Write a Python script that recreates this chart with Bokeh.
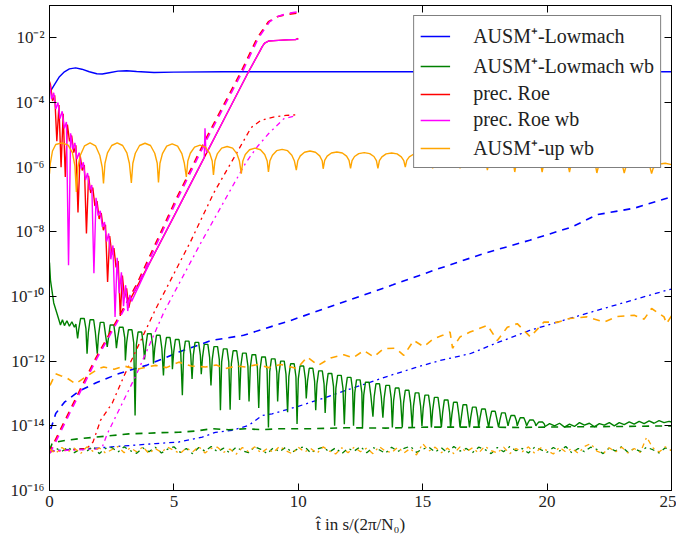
from bokeh.plotting import figure
from bokeh.models import (Range1d, LinearAxis, LogAxis, FixedTicker,
                          CustomJSTickFormatter, Legend, LegendItem)
from bokeh.embed import file_html
from bokeh.resources import INLINE

FONT = "Liberation Serif"

# ---------------- axes / labels ----------------
x_ticks = [0, 5, 10, 15, 20, 25]
y_ticks = [1e-16, 1e-14, 1e-12, 1e-10, 1e-8, 1e-6, 1e-4, 1e-2]
y_tick_labels = ["10⁻¹⁶", "10⁻¹⁴", "10⁻¹²", "10⁻¹⁰", "10⁻⁸", "10⁻⁶", "10⁻⁴", "10⁻²"]
x_label = "t̂ in s/(2π/N₀)"
series_labels = ["AUSM⁺-Lowmach", "AUSM⁺-Lowmach wb", "prec. Roe", "prec. Roe wb", "AUSM⁺-up wb"]

# ---------------- data (values given as log10 exponents) ----------------
# AUSM+-Lowmach (blue)
blue_solid_t = [0.0, 0.2, 0.4, 0.6, 0.8, 1.05, 1.3, 1.6, 1.9, 2.12, 2.4, 2.75, 3.1, 3.5, 4.2, 5.0, 7.0, 10.0, 15.0, 20.0, 25.0]
blue_solid_e = [-3.7, -3.45, -3.2, -3.05, -2.96, -2.93, -2.97, -3.05, -3.11, -3.12, -3.08, -3.03, -3.02, -3.04, -3.07, -3.06, -3.05, -3.05, -3.05, -3.05, -3.05]
blue_dash_t = [0.05, 0.25, 0.6, 1.2, 1.9, 2.8, 3.9, 5.2, 6.5, 7.8, 9.7, 12.0, 13.8, 15.6, 17.5, 19.3, 21.0, 22.0, 23.5, 25.0]
blue_dash_e = [-14.1, -13.62, -13.27, -12.92, -12.66, -12.38, -12.13, -11.72, -11.36, -11.2, -10.74, -10.12, -9.64, -9.15, -8.66, -8.26, -7.85, -7.47, -7.27, -6.92]
blue_dd_t = [0.0, 1.0, 2.0, 3.2, 4.26, 5.2, 6.14, 6.67, 7.34, 8.0, 8.55, 8.95, 9.9, 11.0, 12.0, 12.9, 13.7, 14.7, 15.7, 16.9, 18.0, 19.3, 20.6, 22.0, 23.4, 24.8, 25.0]
blue_dd_e = [-14.78, -14.72, -14.68, -14.61, -14.55, -14.5, -14.35, -14.2, -14.14, -13.99, -13.68, -13.63, -13.42, -13.15, -12.88, -12.65, -12.44, -12.2, -11.98, -11.77, -11.43, -11.05, -10.75, -10.43, -10.12, -9.81, -9.77]

# AUSM+-Lowmach wb (green)
green_solid_t = [
    0.00, 0.04, 0.17, 0.31, 0.44, 0.52, 0.60, 0.70, 0.80, 0.90, 1.00, 1.06,
    1.13, 1.18, 1.25, 1.395, 1.465,
    1.51, 1.56, 1.63, 1.775, 1.845,
    1.92, 1.97, 2.04, 2.185, 2.255,
    2.32, 2.37, 2.44, 2.585, 2.655,
    2.69, 2.74, 2.81, 2.955, 3.025,
    3.05, 3.10, 3.17, 3.315, 3.385,
    3.44, 3.49, 3.56, 3.705, 3.775,
    3.82, 3.87, 3.94, 4.085, 4.155,
    4.18, 4.23, 4.30, 4.445, 4.515,
    4.58, 4.63, 4.70, 4.845, 4.915,
    4.94, 4.99, 5.06, 5.205, 5.275,
    5.34, 5.39, 5.46, 5.605, 5.675,
    5.73, 5.78, 5.85, 5.995, 6.065,
    6.10, 6.15, 6.22, 6.365, 6.435,
    6.49, 6.54, 6.61, 6.755, 6.825,
    6.87, 6.92, 6.99, 7.135, 7.205,
    7.26, 7.31, 7.38, 7.525, 7.595,
    7.64, 7.69, 7.76, 7.905, 7.975,
    8.02, 8.07, 8.14, 8.285, 8.355,
    8.41, 8.46, 8.53, 8.675, 8.745,
    8.80, 8.85, 8.92, 9.065, 9.135,
    9.17, 9.22, 9.29, 9.435, 9.505,
    9.57, 9.62, 9.69, 9.835, 9.905,
    9.95, 10.00, 10.07, 10.215, 10.285,
    10.32, 10.37, 10.44, 10.585, 10.655,
    10.70, 10.75, 10.82, 10.965, 11.035,
    11.08, 11.13, 11.20, 11.345, 11.415,
    11.46, 11.51, 11.58, 11.725, 11.795,
    11.85, 11.90, 11.97, 12.115, 12.185,
    12.22, 12.27, 12.34, 12.485, 12.555,
    12.58, 12.63, 12.70, 12.845, 12.915,
    13.00, 13.05, 13.12, 13.265, 13.335,
    13.40, 13.45, 13.52, 13.665, 13.735,
    13.78, 13.83, 13.90, 14.045, 14.115,
    14.18, 14.23, 14.30, 14.445, 14.515,
    14.58, 14.63, 14.70, 14.845, 14.915,
    14.97, 15.02, 15.09, 15.235, 15.305,
    15.35, 15.40, 15.47, 15.615, 15.685,
    15.75, 15.80, 15.87, 16.015, 16.085,
    16.12, 16.17, 16.24, 16.385, 16.455,
    16.50, 16.55, 16.62, 16.765, 16.835,
    16.88, 16.93, 17.00, 17.145, 17.215,
    17.25, 17.30, 17.37, 17.515, 17.585,
    17.65, 17.70, 17.77, 17.915, 17.985,
    18.05, 18.10, 18.17, 18.315, 18.385,
    18.43, 18.48, 18.55, 18.695, 18.765,
    18.80, 18.85, 18.92, 19.065, 19.135,
    19.18, 19.23, 19.30, 19.445, 19.515,
    19.55, 19.60, 19.67, 19.815, 19.885,
    19.92, 20.1, 20.3, 20.5, 20.7, 20.9, 21.1, 21.3, 21.5, 21.7, 21.9, 22.1, 22.3, 22.5,
    22.7, 22.9, 23.1, 23.3, 23.5, 23.7, 23.9, 24.1, 24.3, 24.5, 24.7, 24.9, 25.0]
green_solid_e = [
    -8.95, -9.50, -10.20, -10.55, -10.88, -10.72, -10.90, -10.75, -10.92, -10.78, -10.95, -10.85,
    -11.30, -10.99, -10.68, -10.68, -10.99,
    -11.77, -11.12, -10.72, -10.72, -11.12,
    -11.77, -11.20, -10.80, -10.80, -11.20,
    -11.56, -11.28, -10.88, -10.88, -11.28,
    -11.60, -11.28, -10.95, -10.95, -11.28,
    -11.98, -11.43, -11.03, -11.03, -11.43,
    -13.68, -11.50, -11.10, -11.10, -11.50,
    -11.95, -11.55, -11.15, -11.15, -11.55,
    -12.08, -11.60, -11.20, -11.20, -11.60,
    -12.44, -11.67, -11.27, -11.27, -11.67,
    -12.25, -11.73, -11.33, -11.33, -11.73,
    -13.05, -11.78, -11.38, -11.38, -11.78,
    -12.55, -11.82, -11.42, -11.42, -11.82,
    -12.40, -11.88, -11.48, -11.48, -11.88,
    -12.75, -11.95, -11.55, -11.55, -11.95,
    -13.52, -12.02, -11.62, -11.62, -12.02,
    -13.50, -12.08, -11.68, -11.68, -12.08,
    -13.20, -12.15, -11.75, -11.75, -12.15,
    -13.25, -12.20, -11.80, -11.80, -12.20,
    -13.45, -12.27, -11.87, -11.87, -12.27,
    -14.05, -12.33, -11.93, -11.93, -12.33,
    -13.25, -12.40, -12.00, -12.00, -12.40,
    -13.58, -12.48, -12.08, -12.08, -12.48,
    -13.94, -12.55, -12.15, -12.15, -12.55,
    -13.15, -12.62, -12.22, -12.22, -12.62,
    -13.52, -12.70, -12.30, -12.30, -12.70,
    -13.60, -12.78, -12.38, -12.38, -12.78,
    -14.00, -12.84, -12.44, -12.44, -12.84,
    -13.95, -12.90, -12.50, -12.50, -12.90,
    -14.00, -12.98, -12.58, -12.58, -12.98,
    -14.05, -13.05, -12.65, -12.65, -13.05,
    -13.72, -13.10, -12.70, -12.70, -13.10,
    -13.75, -13.15, -12.75, -12.75, -13.15,
    -14.05, -13.23, -12.83, -12.83, -13.23,
    -14.05, -13.30, -12.90, -12.90, -13.30,
    -14.05, -13.38, -12.98, -12.98, -13.38,
    -14.00, -13.45, -13.05, -13.05, -13.45,
    -14.05, -13.52, -13.12, -13.12, -13.52,
    -14.05, -13.60, -13.20, -13.20, -13.60,
    -14.05, -13.67, -13.27, -13.27, -13.67,
    -14.05, -13.75, -13.35, -13.35, -13.75,
    -14.05, -13.74, -13.42, -13.42, -13.74,
    -14.05, -13.77, -13.48, -13.48, -13.77,
    -14.05, -13.80, -13.55, -13.55, -13.80,
    -14.05, -13.83, -13.60, -13.60, -13.83,
    -14.00, -13.84, -13.68, -13.68, -13.84,
    -14.00, -13.88, -13.75, -13.75, -13.88,
    -14.00, -13.91, -13.82, -13.82, -13.91,
    -14.00, -13.94, -13.88, -13.88, -13.94,
    -14.02, -13.93, -14.00, -13.92, -14.04, -13.95, -14.02, -13.90, -13.98, -13.92, -14.03, -13.93, -13.98, -13.90,
    -14.00, -13.90, -13.96, -13.88, -13.95, -13.86, -13.93, -13.85, -13.92, -13.84, -13.90, -13.86, -13.88]
green_dash_t = [0.0, 0.1, 0.3, 0.64, 1.18, 1.85, 2.52, 3.19, 3.9, 4.53, 5.2, 5.87, 6.54, 7.2, 7.88, 8.55, 9.22, 10.5, 11.9, 13.5, 15.3, 17.3, 19.0, 21.0, 23.0, 25.0]
green_dash_e = [-14.75, -14.56, -14.5, -14.45, -14.4, -14.35, -14.3, -14.25, -14.23, -14.21, -14.2, -14.16, -14.09, -14.12, -14.09, -14.12, -14.09, -14.09, -14.06, -14.07, -14.04, -14.04, -14.05, -14.03, -14.02, -14.0]

noise_t = [i * 0.25 for i in range(101)]
green_noise_e = [
    -14.84, -14.69, -14.79, -14.66, -14.83, -14.71, -14.78, -14.64, -14.86, -14.70,
    -14.67, -14.81, -14.65, -14.77, -14.85, -14.68, -14.80, -14.66, -14.84, -14.72,
    -14.65, -14.82, -14.70, -14.86, -14.67, -14.78, -14.64, -14.80, -14.69, -14.84,
    -14.66, -14.77, -14.83, -14.65, -14.73, -14.86, -14.68, -14.80, -14.66, -14.82,
    -14.70, -14.64, -14.84, -14.72, -14.66, -14.81, -14.68, -14.86, -14.70, -14.78,
    -14.64, -14.83, -14.67, -14.74, -14.85, -14.66, -14.79, -14.70, -14.63, -14.82,
    -14.72, -14.66, -14.81, -14.68, -14.84, -14.64, -14.78, -14.70, -14.83, -14.66,
    -14.73, -14.86, -14.67, -14.80, -14.64, -14.77, -14.70, -14.84, -14.66, -14.74,
    -14.82, -14.67, -14.78, -14.64, -14.84, -14.70, -14.80, -14.66, -14.73, -14.86,
    -14.68, -14.78, -14.64, -14.82, -14.70, -14.80, -14.66, -14.74, -14.84, -14.68,
    -14.77]

# prec. Roe (red)
red_solid_t = [0.000, 0.040, 0.125, 0.210, 0.295, 0.380, 0.465, 0.550, 0.635, 0.720, 0.805, 0.890, 0.975,
               1.060, 1.145, 1.230, 1.315, 1.400, 1.485, 1.570, 1.655, 1.740, 1.825, 1.910, 1.995, 2.080,
               2.165, 2.250, 2.335, 2.420, 2.505, 2.590, 2.675, 2.760, 2.845, 2.930, 3.015, 3.100, 3.185,
               3.270, 4.0, 5.0, 6.0, 7.0, 8.0, 8.45, 8.55, 8.65, 8.8, 9.2, 9.6, 9.9, 10.0]
red_solid_e = [-3.35, -3.45, -3.95, -3.78, -5.20, -4.08, -6.00, -4.35, -6.30, -4.68, -5.20, -5.02, -5.55,
               -5.32, -7.40, -5.62, -6.10, -5.93, -8.05, -6.27, -6.80, -6.63, -7.20, -7.05, -7.60, -7.42,
               -7.95, -7.78, -9.55, -8.13, -8.70, -8.50, -9.10, -8.90, -10.60, -9.35, -10.05, -9.75, -10.35,
               -10.05, -9.0, -7.52, -6.03, -4.54, -3.05, -2.42, -2.27, -2.16, -2.10, -2.08, -2.06, -2.05, -2.02]
red_dash_t = [0.0, 0.1, 0.8, 1.85, 2.52, 3.52, 5.05, 6.3, 7.7, 8.35, 8.8, 9.15, 9.5, 9.95]
red_dash_e = [-14.85, -14.65, -13.55, -11.92, -11.0, -9.6, -7.05, -5.1, -3.05, -2.0, -1.5, -1.35, -1.28, -1.24]
red_dd_t = [0.0, 0.8, 1.5, 1.75, 2.05, 2.52, 3.0, 4.26, 5.67, 6.6, 7.68, 8.1, 8.5, 9.0, 9.5, 9.95]
red_dd_e = [-14.8, -14.75, -14.7, -14.5, -13.83, -13.3, -12.45, -10.4, -8.3, -6.8, -5.35, -4.78, -4.55, -4.45, -4.4, -4.38]

# prec. Roe wb (magenta)
mag_solid_t = [0.000, 0.085, 0.170, 0.255, 0.340, 0.425, 0.510, 0.595, 0.680, 0.765, 0.850, 0.935, 1.020,
               1.105, 1.190, 1.275, 1.360, 1.445, 1.530, 1.615, 1.700, 1.785, 1.870, 1.955, 2.040, 2.125,
               2.210, 2.295, 2.380, 2.465, 2.550, 2.635, 2.720, 2.805, 2.890, 2.975, 3.060, 3.145, 3.230,
               3.30, 4.0, 5.0, 6.0, 6.22, 6.25, 6.28, 6.32, 7.0, 8.0, 8.45, 8.55, 8.65, 8.8, 9.2, 9.6, 9.9, 10.0]
mag_solid_e = [-3.40, -3.90, -3.70, -4.20, -4.00, -4.50, -4.27, -4.80, -4.60, -9.03, -4.95, -5.45, -5.25,
               -5.75, -5.55, -6.05, -5.85, -6.40, -6.18, -6.70, -6.55, -9.28, -6.95, -7.50, -7.35, -7.85,
               -7.70, -8.30, -8.05, -8.85, -8.42, -10.63, -8.80, -9.90, -9.25, -10.30, -9.65, -10.45, -9.95,
               -10.15, -9.0, -7.52, -6.03, -5.70, -4.80, -5.40, -5.55, -4.54, -3.05, -2.42, -2.27, -2.16,
               -2.10, -2.08, -2.06, -2.05, -2.03]
mag_dash_t = [0.0, 0.15, 0.85, 1.9, 2.57, 3.57, 5.1, 6.35, 7.75, 8.4, 8.85, 9.2, 9.55, 9.95]
mag_dash_e = [-14.85, -14.65, -13.55, -11.92, -11.0, -9.6, -7.05, -5.1, -3.05, -2.0, -1.5, -1.33, -1.25, -1.2]
mag_dd_t = [0.0, 1.0, 1.9, 2.12, 2.32, 2.85, 3.5, 4.6, 6.07, 7.27, 7.9, 8.35, 8.81, 9.42, 9.95]
mag_dd_e = [-14.78, -14.75, -14.72, -14.66, -14.25, -13.42, -12.4, -10.48, -8.36, -6.71, -5.85, -5.37, -4.96, -4.5, -4.4]

# AUSM+-up wb (orange)
orange_solid_t = [
    0.00, 0.03, 0.12, 0.25, 0.50, 0.75, 0.92, 1.02,
    1.08, 1.14, 1.24, 1.41, 1.63, 1.85, 2.02, 2.12,
    2.17, 2.23, 2.33, 2.50, 2.72, 2.94, 3.11, 3.21,
    3.29, 3.35, 3.45, 3.62, 3.84, 4.06, 4.23, 4.33,
    4.38, 4.44, 4.54, 4.71, 4.93, 5.15, 5.32, 5.42,
    5.50, 5.56, 5.66, 5.83, 6.05, 6.27, 6.44, 6.54,
    6.59, 6.65, 6.75, 6.92, 7.14, 7.36, 7.53, 7.63,
    7.71, 7.77, 7.87, 8.04, 8.26, 8.48, 8.65, 8.75,
    8.80, 8.86, 8.96, 9.13, 9.35, 9.57, 9.74, 9.84,
    9.92, 9.98, 10.08, 10.25, 10.47, 10.69, 10.86, 10.96,
    11.00, 11.06, 11.16, 11.33, 11.55, 11.77, 11.94, 12.04,
    12.10, 12.16, 12.26, 12.43, 12.65, 12.87, 13.04, 13.14,
    13.20, 13.26, 13.36, 13.53, 13.75, 13.97, 14.14, 14.24,
    14.30, 14.36, 14.46, 14.63, 14.85, 15.07, 15.24, 15.34,
    15.40, 15.46, 15.56, 15.73, 15.95, 16.17, 16.34, 16.44,
    16.50, 16.56, 16.66, 16.83, 17.05, 17.27, 17.44, 17.54,
    17.60, 17.66, 17.76, 17.93, 18.15, 18.37, 18.54, 18.64,
    18.70, 18.76, 18.86, 19.03, 19.25, 19.47, 19.64, 19.74,
    19.80, 19.86, 19.96, 20.13, 20.35, 20.57, 20.74, 20.84,
    20.90, 20.96, 21.06, 21.23, 21.45, 21.67, 21.84, 21.94,
    22.00, 22.06, 22.16, 22.33, 22.55, 22.77, 22.94, 23.04,
    23.10, 23.16, 23.26, 23.43, 23.65, 23.87, 24.04, 24.14,
    24.20, 24.26, 24.36, 24.53, 24.75, 25.00]
orange_solid_e = [
    -6.20, -5.90, -5.50, -5.30, -5.25, -5.32, -5.55, -5.95,
    -6.77, -6.01, -5.63, -5.34, -5.25, -5.34, -5.63, -6.01,
    -6.50, -5.88, -5.56, -5.33, -5.25, -5.33, -5.56, -5.88,
    -6.49, -5.88, -5.57, -5.33, -5.26, -5.33, -5.57, -5.88,
    -6.47, -5.88, -5.58, -5.35, -5.28, -5.35, -5.58, -5.88,
    -6.30, -5.81, -5.57, -5.38, -5.32, -5.38, -5.57, -5.81,
    -6.24, -5.80, -5.58, -5.41, -5.36, -5.41, -5.58, -5.80,
    -6.20, -5.81, -5.61, -5.46, -5.41, -5.46, -5.61, -5.81,
    -6.15, -5.80, -5.63, -5.49, -5.45, -5.49, -5.63, -5.80,
    -6.09, -5.80, -5.65, -5.54, -5.50, -5.54, -5.65, -5.80,
    -6.05, -5.79, -5.66, -5.56, -5.53, -5.56, -5.66, -5.79,
    -6.04, -5.80, -5.67, -5.58, -5.55, -5.58, -5.67, -5.80,
    -6.04, -5.80, -5.68, -5.59, -5.56, -5.59, -5.68, -5.80,
    -6.00, -5.79, -5.68, -5.60, -5.57, -5.60, -5.68, -5.79,
    -6.04, -5.81, -5.69, -5.61, -5.58, -5.61, -5.69, -5.81,
    -6.04, -5.82, -5.71, -5.63, -5.60, -5.63, -5.71, -5.82,
    -6.09, -5.85, -5.74, -5.65, -5.62, -5.65, -5.74, -5.85,
    -6.15, -5.90, -5.77, -5.67, -5.64, -5.67, -5.77, -5.90,
    -6.15, -5.91, -5.78, -5.69, -5.66, -5.69, -5.78, -5.91,
    -6.15, -5.93, -5.81, -5.73, -5.70, -5.73, -5.81, -5.93,
    -6.18, -5.99, -5.90, -5.83, -5.80, -5.83, -5.90, -5.99,
    -6.18, -6.01, -5.92, -5.86, -5.84, -5.86, -5.92, -6.01,
    -6.20, -6.04, -5.96, -5.90, -5.88, -5.92]
orange_dash_t = [0.02, 0.24, 0.45, 0.64, 1.04, 1.45, 1.98, 2.18, 2.6, 3.0, 3.5, 4.26, 4.7, 5.2, 5.7, 6.27,
                 6.7, 7.07, 7.5, 7.88, 8.4, 8.8, 9.3, 9.95, 10.36, 10.8, 11.3, 11.83, 12.2, 12.63, 13.03,
                 13.43, 13.9, 14.24, 14.64, 15.04, 15.45, 15.8, 16.1, 16.2, 16.5, 16.9, 17.6, 18.0, 18.4,
                 18.8, 19.33, 19.87, 20.4, 20.9, 21.6, 22.3, 22.8, 23.5, 23.9, 24.2, 24.7, 24.8, 25.0]
orange_dash_e = [-12.75, -12.39, -12.45, -12.49, -12.7, -12.49, -12.23, -12.18, -12.25, -12.15, -12.25,
                 -12.13, -12.2, -12.03, -12.15, -12.18, -12.12, -12.23, -12.15, -12.18, -12.1, -12.2, -12.1,
                 -12.23, -11.87, -12.13, -11.9, -11.8, -11.9, -11.67, -11.87, -11.61, -11.6, -11.82, -11.36,
                 -11.55, -11.3, -11.2, -11.1, -11.6, -11.25, -11.1, -10.89, -11.36, -10.95, -10.84, -11.25,
                 -10.79, -10.8, -10.68, -10.63, -10.79, -10.62, -10.58, -10.7, -10.37, -10.63, -10.84, -10.6]
orange_noise_e = [
    -14.72, -14.85, -14.67, -14.80, -14.69, -14.86, -14.65, -14.79, -14.68, -14.84,
    -14.74, -14.64, -14.83, -14.68, -14.80, -14.65, -14.86, -14.70, -14.82, -14.66,
    -14.76, -14.86, -14.68, -14.81, -14.64, -14.84, -14.70, -14.66, -14.82, -14.72,
    -14.88, -14.67, -14.80, -14.65, -14.84, -14.70, -14.82, -14.63, -14.77, -14.86,
    -14.66, -14.81, -14.70, -14.85, -14.65, -14.78, -14.87, -14.68, -14.83, -14.66,
    -14.80, -14.69, -14.86, -14.64, -14.78, -14.83, -14.66, -14.84, -14.70, -14.90,
    -14.55, -14.78, -14.66, -14.83, -14.69, -14.86, -14.65, -14.80, -14.68, -14.84,
    -14.63, -14.77, -14.84, -14.66, -14.86, -14.70, -14.80, -14.65, -14.85, -14.68,
    -14.76, -14.87, -14.66, -14.81, -14.70, -14.85, -14.64, -14.55, -14.78, -14.86,
    -14.68, -14.81, -14.66, -14.84, -14.70, -14.82, -14.35, -14.68, -14.81, -14.65,
    -14.77]

# ---------------- styling ----------------
BLUE, GREEN, RED, MAGENTA, ORANGE = "#0000ff", "#008000", "#ff0000", "#ff00ff", "#ffa500"
W_SOLID, W_DASH, W_DD = 1.4, 1.6, 1.3
DASH, DASHDOT = "7 6", "5 4 2 4"


def vals(exps):
    return [10.0 ** e for e in exps]


p = figure(width=676, height=536, y_axis_type="log",
           x_range=Range1d(0, 25), y_range=Range1d(1e-16, 1e-1),
           output_backend="svg", toolbar_location=None,
           min_border_left=49, min_border_right=5, min_border_top=5, min_border_bottom=46)
p.grid.visible = False
p.outline_line_color = "black"
p.outline_line_width = 1
p.background_fill_color = "white"
p.border_fill_color = "white"

r_blue = p.line(blue_solid_t, vals(blue_solid_e), line_color=BLUE, line_width=W_SOLID)
p.line(blue_dash_t, vals(blue_dash_e), line_color=BLUE, line_width=W_DASH, line_dash=DASH)
p.line(blue_dd_t, vals(blue_dd_e), line_color=BLUE, line_width=W_DD, line_dash=DASHDOT)

r_green = p.line(green_solid_t, vals(green_solid_e), line_color=GREEN, line_width=W_SOLID)
p.line(green_dash_t, vals(green_dash_e), line_color=GREEN, line_width=W_DASH, line_dash=DASH)
p.line(noise_t, vals(green_noise_e), line_color=GREEN, line_width=W_DD, line_dash=DASHDOT)

r_red = p.line(red_solid_t, vals(red_solid_e), line_color=RED, line_width=W_SOLID)
p.line(red_dash_t, vals(red_dash_e), line_color=RED, line_width=W_DASH, line_dash=DASH)
p.line(red_dd_t, vals(red_dd_e), line_color=RED, line_width=W_DD, line_dash=DASHDOT)

r_mag = p.line(mag_solid_t, vals(mag_solid_e), line_color=MAGENTA, line_width=W_SOLID)
p.line(mag_dash_t, vals(mag_dash_e), line_color=MAGENTA, line_width=W_DASH, line_dash=DASH)
p.line(mag_dd_t, vals(mag_dd_e), line_color=MAGENTA, line_width=W_DD, line_dash=DASHDOT)

r_orange = p.line(orange_solid_t, vals(orange_solid_e), line_color=ORANGE, line_width=W_SOLID)
p.line(orange_dash_t, vals(orange_dash_e), line_color=ORANGE, line_width=W_DASH, line_dash=DASH)
p.line(noise_t, vals(orange_noise_e), line_color=ORANGE, line_width=W_DD, line_dash=DASHDOT)

# axes
p.xaxis.ticker = FixedTicker(ticks=x_ticks)
p.yaxis.ticker = FixedTicker(ticks=y_ticks)
p.yaxis.formatter = CustomJSTickFormatter(args=dict(vals=y_ticks, labs=y_tick_labels), code="""
let best = 0, bd = Infinity;
for (let i = 0; i < vals.length; i++) {
  const d = Math.abs(Math.log10(vals[i]) - Math.log10(tick));
  if (d < bd) { bd = d; best = i; }
}
return labs[best];
""")
p.xaxis.axis_label = x_label

blank = CustomJSTickFormatter(code="return '';")
top_ax = LinearAxis(ticker=FixedTicker(ticks=x_ticks), formatter=blank)
right_ax = LogAxis(ticker=FixedTicker(ticks=y_ticks), formatter=blank)
p.add_layout(top_ax, "above")
p.add_layout(right_ax, "right")

for ax in p.axis:
    ax.axis_line_color = "black"
    ax.major_tick_line_color = "black"
    ax.major_tick_in = 7
    ax.major_tick_out = 0
    ax.minor_tick_in = 0
    ax.minor_tick_out = 0
    ax.major_label_text_font = FONT
    ax.major_label_text_font_size = "17px"
    ax.major_label_text_color = "#222222"
    ax.axis_label_text_font = FONT
    ax.axis_label_text_font_size = "17px"
    ax.axis_label_text_font_style = "normal"
    ax.axis_label_text_color = "#222222"

for ax in (top_ax, right_ax):
    ax.major_label_standoff = 0
    ax.major_label_text_font_size = "0px"

p.xaxis[0].major_label_standoff = 6
p.xaxis[0].axis_label_standoff = 1
p.yaxis[0].major_label_standoff = 5

legend = Legend(items=[LegendItem(label=series_labels[0], renderers=[r_blue]),
                       LegendItem(label=series_labels[1], renderers=[r_green]),
                       LegendItem(label=series_labels[2], renderers=[r_red]),
                       LegendItem(label=series_labels[3], renderers=[r_mag]),
                       LegendItem(label=series_labels[4], renderers=[r_orange])],
                location="top_right")
legend.border_line_color = "black"
legend.border_line_width = 1
legend.background_fill_alpha = 1.0
legend.label_text_font = FONT
legend.label_text_font_size = "20px"
legend.label_text_color = "#222222"
legend.glyph_width = 30
legend.glyph_height = 20
legend.label_height = 20
legend.label_standoff = 23
legend.spacing = 3
legend.padding = 6
legend.margin = 10
p.add_layout(legend)

open("out.html", "w").write(file_html(p, INLINE))
